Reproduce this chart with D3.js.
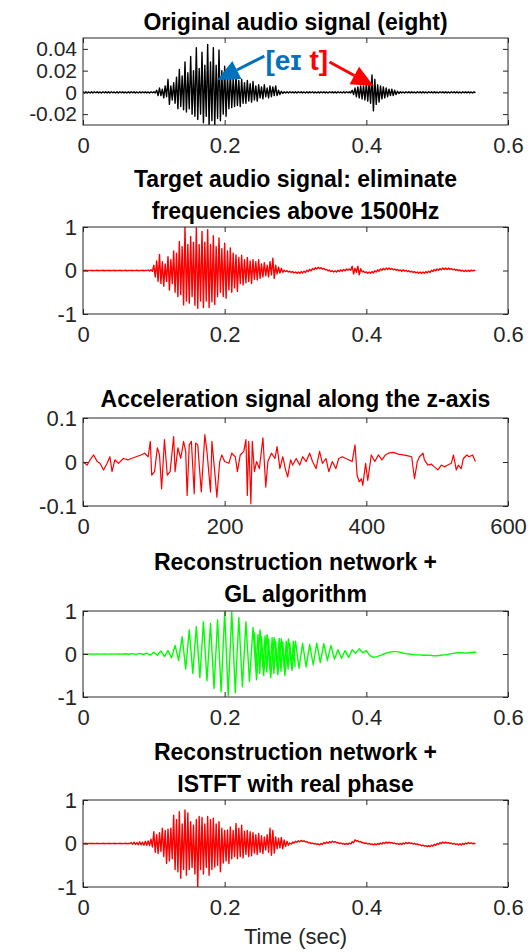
<!DOCTYPE html>
<html>
<head>
<meta charset="utf-8">
<script src="https://cdn.jsdelivr.net/npm/d3@7"></script>
<style>
  body { margin: 0; background: #fff; }
  text { font-family: "Liberation Sans", Arial, Helvetica, sans-serif; }
</style>
</head>
<body>
<svg id="chart" width="530" height="952"></svg>
<script>
// audio panels: peak values every 4 ms (upper peak, then lower peak)
const audioStep = 0.004;

const origUpper = [
  .0005,.0006,.0004,.0005,.0006,.0005,.0004,.0006,.0005,.0005,
  .0006,.0004,.0005,.0006,.0005,.0004,.0005,.0006,.0005,.0004,
  .0005,.0006,.0005,.0004,.0006,.0005,
  .002,.004,.003,.006,
  .012,.006,.009,.014,.021,.015,.028,.018,.033,.020,
  .041,.022,.037,.025,.044,.028,.041,.025,.039,.020,
  .024,.016,.018,.013,.017,.011,.012,.009,.011,.008,
  .010,.006,.007,.005,.007,.004,.006,.005,.006,.002,
  .001,
  .0006,.0005,.0006,.0004,.0005,.0006,.0005,.0004,.0006,
  .0005,.0006,.0004,.0005,.0006,.0005,.0004,.0006,.0005,.0005,
  .0006,.0004,.0005,.0006,.0005,
  .002,.004,.005,.006,.006,
  .008,.009,.016,.012,.007,.006,.005,.004,.003,.003,
  .002,.001,
  .0005,.0004,.0006,.0005,.0005,.0004,.0006,.0005,
  .0005,.0004,.0006,.0005,.0005,.0004,.0006,.0005,.0005,.0004,
  .0006,.0005,.0005,.0004,.0006,.0005,.0005,.0004,.0005
];
const origLower = [
  -.0005,-.0004,-.0006,-.0005,-.0004,-.0005,-.0006,-.0004,-.0005,-.0005,
  -.0004,-.0006,-.0005,-.0004,-.0005,-.0006,-.0005,-.0004,-.0005,-.0006,
  -.0005,-.0004,-.0005,-.0006,-.0004,-.0005,
  -.003,-.003,-.005,-.004,
  -.011,-.007,-.010,-.015,-.013,-.016,-.018,-.015,-.020,-.022,
  -.025,-.020,-.028,-.022,-.031,-.026,-.031,-.024,-.026,-.020,
  -.022,-.015,-.014,-.013,-.012,-.013,-.010,-.010,-.008,-.009,
  -.007,-.008,-.005,-.006,-.004,-.005,-.004,-.003,-.003,-.002,
  -.001,
  -.0005,-.0006,-.0004,-.0005,-.0006,-.0004,-.0005,-.0006,-.0005,
  -.0004,-.0005,-.0006,-.0005,-.0004,-.0005,-.0006,-.0004,-.0005,-.0005,
  -.0004,-.0006,-.0005,-.0004,-.0005,
  -.002,-.004,-.005,-.006,-.007,
  -.008,-.010,-.017,-.011,-.009,-.006,-.005,-.004,-.003,-.003,
  -.002,-.001,
  -.0005,-.0006,-.0004,-.0005,-.0005,-.0006,-.0004,-.0005,
  -.0005,-.0006,-.0004,-.0005,-.0005,-.0006,-.0004,-.0005,-.0005,-.0006,
  -.0004,-.0005,-.0005,-.0006,-.0004,-.0005,-.0005,-.0006,-.0005
];

const targetUpper = [
  .004,.005,.004,.005,.004,.005,.004,.005,.004,.005,
  .004,.005,.004,.005,.004,.005,.004,.005,.004,.005,
  .004,.005,.004,.01,
  .02,.12,.22,.37,.20,.15,
  .32,.25,.45,.40,.67,.55,1.0,.60,.78,.65,
  .98,.60,.90,.65,.94,.60,.80,.55,.75,.50,
  .63,.45,.52,.40,.36,.30,.35,.25,.30,.22,
  .25,.20,.25,.15,.18,.12,.20,.28,.12,.08,.05,
  .005,-.005,-.015,-.025, -.035,-.035,-.025,-.015, .005,.025,.045,.065,
  .075,.065,.045,.025, .005,-.005,-.005,.005, .015,.025,.035,.035,
  .10,.05,.10,.04, -.015,-.035,-.035,-.025, -.005,.015,.035,.045,
  .055,.055,.045,.035, .025,.015,.015,.005, -.005,-.015,-.025,-.035,
  -.035,-.035,-.025,-.015, .005,.025,.035,.045, .055,.055,.055,.045,
  .035,.025,.015,.005, .005,.005,.01,.005
];
const targetLower = [
  -.004,-.005,-.004,-.005,-.004,-.005,-.004,-.005,-.004,-.005,
  -.004,-.005,-.004,-.005,-.004,-.005,-.004,-.005,-.004,-.005,
  -.004,-.005,-.004,-.01,
  -.02,-.15,-.25,-.30,-.36,-.25,
  -.45,-.30,-.50,-.60,-.55,-.79,-.70,-.75,-.60,-.80,
  -.87,-.70,-.85,-.70,-.85,-.72,-.78,-.60,-.50,-.60,
  -.64,-.45,-.50,-.40,-.48,-.30,-.33,-.28,-.25,-.30,
  -.20,-.22,-.18,-.15,-.12,-.15,-.10,-.18,-.08,-.06,-.04,
  -.025,-.035,-.045,-.055, -.065,-.065,-.055,-.045, -.025,-.005,.015,.035,
  .045,.035,.015,-.005, -.025,-.035,-.035,-.025, -.015,-.005,.005,.005,
  -.08,-.04,-.10,-.03, -.045,-.065,-.065,-.055, -.035,-.015,.005,.015,
  .025,.025,.015,.005, -.005,-.015,-.015,-.025, -.035,-.045,-.055,-.065,
  -.065,-.065,-.055,-.045, -.025,-.005,.005,.015, .025,.025,.025,.015,
  .005,-.005,-.015,-.025, -.025,-.025,-.01,-.005
];

const istftUpper = [
  .004,.005,.004,.005,.004,.005,.004,.005,.004,.005,
  .004,.005,.004,.005,.004,.005,.004,
  .02,.03,.02,.04,.03,.05,.06,.10,
  .27,.20,.25,.35,.30,.33,.35,.65,.55,.73,
  .45,.77,.70,.50,.42,.55,.62,.60,.45,.62,
  .55,.58,.45,.50,.35,.30,.31,.38,.30,.46,
  .35,.42,.28,.30,.27,.25,.20,.23,.18,.15,
  .20,.35,.30,.15,.12,.14,.08,.05,
  .012,.032,.052,.062, .072,.062,.042,.022, .012,.002,-.008,.002,
  .022,.032,.042,.052, .042,.022,.012,.002, .002,.012,.042,.082,
  .062,.042,.022,.012, .002,-.008,-.008,.002, .012,.022,.032,.032,
  .022,.012,.002,.002, .012,.022,.022,.012, .002,-.008,-.028,-.038,
  -.048,-.048,-.038,-.018, .002,.022,.032,.032, .022,.012,.002,-.008,
  -.008,.002,.012,.022, .015,.005
];
const istftLower = [
  -.004,-.005,-.004,-.005,-.004,-.005,-.004,-.005,-.004,-.005,
  -.004,-.005,-.004,-.005,-.004,-.005,-.004,
  -.02,-.02,-.03,-.03,-.04,-.04,-.05,-.08,
  -.20,-.23,-.18,-.30,-.46,-.40,-.35,-.60,-.65,-.80,
  -.60,-.73,-.60,-.55,-.70,-1.0,-.60,-.70,-.55,-.73,
  -.60,-.54,-.50,-.65,-.45,-.40,-.46,-.35,-.30,-.35,
  -.30,-.33,-.25,-.30,-.28,-.22,-.25,-.20,-.23,-.15,
  -.20,-.27,-.22,-.12,-.10,-.12,-.07,-.04,
  -.012,.008,.028,.038, .048,.038,.018,-.002, -.012,-.022,-.032,-.022,
  -.002,.008,.018,.028, .018,-.002,-.012,-.022, -.022,-.012,.018,.058,
  .038,.018,-.002,-.012, -.022,-.032,-.032,-.022, -.012,-.002,.008,.008,
  -.002,-.012,-.022,-.022, -.012,-.002,-.002,-.012, -.022,-.032,-.052,-.062,
  -.072,-.072,-.062,-.042, -.022,-.002,.008,.008, -.002,-.012,-.022,-.032,
  -.032,-.022,-.012,-.002, -.005,-.005
];

// GL reconstruction: samples every 5 ms (peaks and troughs)
const glStep = 0.005;
const glValues = [
  0,0,.002,-.002,.002,-.002,.003,-.003,.003,-.003,
  .004,-.004,.005,-.005,.01,-.01,.015,-.012,.02,-.025,
  .04,-.03,.07,-.06,.08,-.09,.2,-.15,.4,-.35,
  .56,-.45,.64,-.55,.75,-.62,.71,-.8,.79,-.88,
  .97,-.97,.98,-.9,.85,-.76,.75,-.64,.62,-.6,
  .56,-.5,.45,-.55,.38,-.48,.35,-.5,.35,-.38,
  .3,-.33,.25,-.3,.22,-.25,.25,-.2,.24,-.15,
  .2,-.12,.1,-.1,.08,-.08,.1,.02,.12,.03,
  .08,-.04,-.08,-.06,-.03,0,.03,.05,.06,.05,
  .03,.01,0,-.01,-.02,-.02,-.03,-.03,-.03,-.04,
  -.04,-.03,-.02,-.01,.01,.02,.03,.03,.02,.03,
  .04,.04
];
// denser ripple riding on the GL trace between 0.24 s and 0.30 s
const glRippleStart = 0.242;
const glRippleStep = 0.0025;
const glRipple = [
  .5,-.3,.45,-.45,.4,-.3,.42,-.42,.35,-.35,
  .38,-.45,.3,-.3,.36,-.4,.28,-.3,.3,-.35,
  .25,-.28,.3,-.3
];

// acceleration along z: sample index and value
const accelX = [
  0,6,10,15,20,24,29,34,38,41,45,50,57,64,68,75,82,87,92,95,
  97,101,105,108,111,115,119,123,128,130,134,138,142,145,147,150,153,157,159,162,
  167,172,175,180,182,186,189,193,196,200,206,210,215,218,222,227,230,232,234,237,
  239,242,245,249,254,258,261,266,271,274,278,282,286,289,293,296,301,306,310,315,
  320,324,329,334,338,343,347,352,357,361,366,371,375,380,384,387,390,393,395,399,
  402,407,412,417,422,427,431,438,445,452,459,464,468,472,475,480,482,487,492,496,
  501,506,510,515,520,523,527,530,534,537,542,545,550,554
];
const accelY = [
  0,-.007,.005,.016,.001,-.003,-.018,-.003,.012,-.022,.005,-.003,.008,.005,.008,.012,.016,.02,.012,.047,
  -.03,-.022,.032,.016,-.061,.051,-.03,-.022,.058,-.022,.032,.008,.047,.024,-.076,.039,.047,-.072,.043,.039,
  -.068,.062,.024,-.068,.047,-.022,-.08,.001,.016,.001,-.003,.02,.012,-.022,.016,.024,.051,-.076,.047,-.095,
  .047,-.022,.001,-.015,.055,-.057,.001,.02,.008,.035,-.015,.012,-.018,-.034,.005,-.007,.008,-.007,.012,.001,
  .02,.001,-.015,.024,-.003,.008,-.022,.001,-.015,.008,.012,.008,.005,.001,.039,-.03,-.045,-.038,-.053,-.003,
  -.042,.016,.001,.016,.005,.016,.02,.022,.018,.016,.014,.012,-.038,.001,.012,.02,.005,-.007,-.005,-.011,
  -.018,-.007,-.011,-.007,-.003,.016,-.018,-.007,-.015,.008,.016,.012,.016,.001
];

const timeTicks = [0, 0.2, 0.4, 0.6];
const sampleTicks = [0, 200, 400, 600];

// interleave upper and lower peaks into one trace
function peaks(upper, lower, step) {
  const pts = [];
  upper.forEach((u, i) => {
    pts.push([i * step, u]);
    pts.push([i * step + step / 2, lower[i]]);
  });
  return pts;
}

const panels = [
  { id: 1, top: 38, bottom: 125, title: ["Original audio signal (eight)"], titleY: 30,
    xDomain: [0, 0.6], xTicks: timeTicks, yDomain: [-0.03, 0.05], yTicks: [-0.02, 0, 0.02, 0.04],
    color: "#000000", width: 1.4, yFont: 21,
    series: [peaks(origUpper, origLower, audioStep)] },
  { id: 2, top: 227, bottom: 314, title: ["Target audio signal: eliminate", "frequencies above 1500Hz"], titleY: 187,
    xDomain: [0, 0.6], xTicks: timeTicks, yDomain: [-1, 1], yTicks: [-1, 0, 1],
    color: "#ff0000", width: 1.4, yFont: 22,
    series: [peaks(targetUpper, targetLower, audioStep)] },
  { id: 3, top: 418, bottom: 506, title: ["Acceleration signal along the z-axis"], titleY: 407,
    xDomain: [0, 600], xTicks: sampleTicks, yDomain: [-0.1, 0.1], yTicks: [-0.1, 0, 0.1],
    color: "#ff0000", width: 1.2, yFont: 22,
    series: [accelX.map((s, i) => [s, accelY[i]])] },
  { id: 4, top: 611, bottom: 697, title: ["Reconstruction network +", "GL algorithm"], titleY: 570,
    xDomain: [0, 0.6], xTicks: timeTicks, yDomain: [-1, 1], yTicks: [-1, 0, 1],
    color: "#00ff00", width: 1.4, yFont: 22,
    series: [glValues.map((v, i) => [i * glStep, v]),
             glRipple.map((v, i) => [glRippleStart + i * glRippleStep, v])] },
  { id: 5, top: 800, bottom: 887, title: ["Reconstruction network +", "ISTFT with real phase"], titleY: 760,
    xDomain: [0, 0.6], xTicks: timeTicks, yDomain: [-1, 1], yTicks: [-1, 0, 1],
    color: "#ff0000", width: 1.4, yFont: 22,
    series: [peaks(istftUpper, istftLower, audioStep)] }
];

const svg = d3.select("#chart");
const left = 83, right = 508;
const axisColor = "#262626";
const scales = {};

panels.forEach(p => {
  const x = d3.scaleLinear().domain(p.xDomain).range([left, right]);
  const y = d3.scaleLinear().domain(p.yDomain).range([p.bottom, p.top]);
  scales[p.id] = { x, y };
  const g = svg.append("g");

  g.append("clipPath").attr("id", "clip" + p.id)
    .append("rect").attr("x", left).attr("y", p.top)
    .attr("width", right - left).attr("height", p.bottom - p.top);

  p.series.forEach(pts => {
    g.append("path").datum(pts)
      .attr("clip-path", "url(#clip" + p.id + ")")
      .attr("fill", "none")
      .attr("stroke", p.color)
      .attr("stroke-width", p.width)
      .attr("stroke-linejoin", "round")
      .attr("d", d3.line().x(d => x(d[0])).y(d => y(d[1])));
  });

  // MATLAB style box with inward ticks on all sides
  const axes = [
    [d3.axisBottom(x).tickValues(p.xTicks).tickPadding(12), `translate(0,${p.bottom})`, 22],
    [d3.axisTop(x).tickValues(p.xTicks).tickFormat(""), `translate(0,${p.top})`, 0],
    [d3.axisLeft(y).tickValues(p.yTicks).tickPadding(6), `translate(${left},0)`, p.yFont],
    [d3.axisRight(y).tickValues(p.yTicks).tickFormat(""), `translate(${right},0)`, 0]
  ];
  axes.forEach(([ax, tr, fontSize]) => {
    ax.tickSizeInner(-5).tickSizeOuter(0);
    if (fontSize) ax.tickFormat(d => String(d));
    const a = g.append("g").attr("transform", tr).call(ax);
    a.selectAll(".domain").remove();
    a.selectAll("line").attr("stroke", axisColor);
    a.selectAll("text").attr("fill", axisColor).style("font-size", fontSize + "px")
      .style("font-family", '"Liberation Sans", Arial, Helvetica, sans-serif');
  });

  g.append("rect").attr("x", left).attr("y", p.top)
    .attr("width", right - left).attr("height", p.bottom - p.top)
    .attr("fill", "none").attr("stroke", axisColor).attr("stroke-width", 1);

  p.title.forEach((line, i) => {
    g.append("text").attr("x", (left + right) / 2).attr("y", p.titleY + i * 32)
      .attr("text-anchor", "middle").attr("font-weight", "bold")
      .attr("font-size", "23px").attr("fill", "#000").text(line);
  });
});

svg.append("text").attr("x", (left + right) / 2).attr("y", 944)
  .attr("text-anchor", "middle").attr("font-size", "22px").attr("fill", axisColor)
  .text("Time (sec)");

// phonetic annotation on the first panel, placed in data units
const sx = scales[1].x, sy = scales[1].y;
const label = svg.append("text").attr("x", sx(0.2575)).attr("y", sy(0.0206))
  .attr("font-weight", "bold").attr("font-size", "28px");
label.append("tspan").attr("fill", "#0072bd").text("[eɪ ");
label.append("tspan").attr("fill", "#ff0000").text("t]");

function arrow(from, to, color) {
  const x1 = sx(from[0]), y1 = sy(from[1]), x2 = sx(to[0]), y2 = sy(to[1]);
  const ang = Math.atan2(y2 - y1, x2 - x1);
  const len = 22, half = 10;
  const bx = x2 - len * Math.cos(ang), by = y2 - len * Math.sin(ang);
  svg.append("line").attr("x1", x1).attr("y1", y1).attr("x2", bx).attr("y2", by)
    .attr("stroke", color).attr("stroke-width", 3);
  svg.append("polygon")
    .attr("points", [
      [x2, y2],
      [bx + half * Math.sin(ang), by - half * Math.cos(ang)],
      [bx - half * Math.sin(ang), by + half * Math.cos(ang)]
    ].map(q => q.join(",")).join(" "))
    .attr("fill", color);
}
arrow([0.2560, 0.0334], [0.1896, 0.0114], "#0072bd");
arrow([0.3480, 0.0279], [0.4104, 0.0059], "#ff0000");
</script>
</body>
</html>
